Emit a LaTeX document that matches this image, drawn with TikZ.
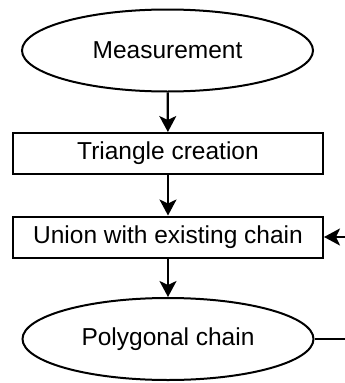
\documentclass[tikz,border=0pt]{standalone}
\usepackage{fontspec}
\setmainfont{Liberation Sans}
\usetikzlibrary{shapes.geometric,arrows.meta}
\begin{document}
\begin{tikzpicture}[x=1pt,y=-1pt,
  every node/.style={font=\fontsize{24.5}{29}\selectfont, line width=2pt, draw, inner sep=0pt},
  oval/.style={ellipse, minimum width=291pt, minimum height=82pt},
  boxnode/.style={rectangle, minimum width=310pt, minimum height=41pt},
  conn/.style={line width=2.2pt, -{Stealth[length=16pt,width=17pt,inset=4pt]}}]
\useasboundingbox (0,0) rectangle (345,383);
\node[oval] (meas) at (167.5,50.5) {Measurement};
\node[boxnode] (tri) at (168,153.5) {Triangle creation};
\node[boxnode] (uni) at (168,237) {Union with existing chain};
\node[oval] (poly) at (168,339) {Polygonal chain};
\coordinate (r1) at (370,339);
\coordinate (r2) at (370,237);
\draw[conn] (meas) -- (tri);
\draw[conn] (tri) -- (uni);
\draw[conn] (uni) -- (poly);
\draw[conn] (poly.east) -- (r1) -- (r2) -- (uni.east);
\end{tikzpicture}
\end{document}
